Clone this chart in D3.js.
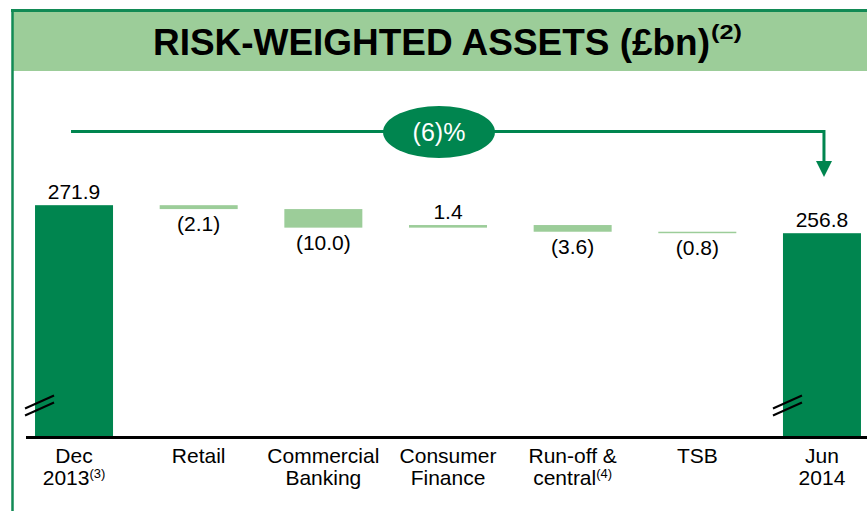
<!DOCTYPE html>
<html>
<head>
<meta charset="utf-8">
<script src="https://cdn.jsdelivr.net/npm/d3@7"></script>
<style>
  body { margin: 0; background: #fff; }
  svg { display: block; }
  text { font-family: "Liberation Sans", Arial, sans-serif; }
</style>
</head>
<body>
<div id="chart"></div>
<script>
// Data
var categories = ['Dec 2013', 'Retail', 'Commercial Banking', 'Consumer Finance', 'Run-off & central', 'TSB', 'Jun 2014'];
var catLines   = [ ['Dec', '2013'], ['Retail'], ['Commercial', 'Banking'], ['Consumer', 'Finance'], ['Run-off &', 'central'], ['TSB'], ['Jun', '2014'] ];
var catNotes   = [ '(3)', '', '', '', '(4)', '', '' ];
var startValue = 271.9;
var deltas     = [ -2.1, -10.0, 1.4, -3.6, -0.8 ];
var endValue   = 256.8;
var changeText = '(6)%';

var darkGreen  = '#00854f';
var lightGreen = '#9ccd99';

var width  = 867;
var height = 511;

var svg = d3.select('#chart').append('svg')
            .attr('width', width)
            .attr('height', height);

// Build waterfall rows
var rows = [];
var running = startValue;
rows.push({ cat: categories[0], y0: 0, y1: startValue, total: true, label: startValue.toFixed(1), up: true });
deltas.forEach(function (d, i) {
    var from = running;
    running = running + d;
    rows.push({ cat: categories[i + 1], y0: Math.min(from, running), y1: Math.max(from, running),
                total: false, up: d > 0,
                label: d < 0 ? '(' + Math.abs(d).toFixed(1) + ')' : d.toFixed(1) });
});
rows.push({ cat: categories[6], y0: 0, y1: endValue, total: true, label: endValue.toFixed(1), up: true });

// Scales (value axis is broken, baseline sits well above zero)
var baseValue = 147;
var x = d3.scalePoint().domain(categories).range([11.7, 884.3]).padding(0.5);
var y = d3.scaleLinear().domain([baseValue, 272]).range([437, 205]);
var barW = 78;

// Title band
svg.append('rect')
   .attr('x', 12).attr('y', 10)
   .attr('width', width - 12).attr('height', 61)
   .attr('fill', lightGreen);
svg.append('line')
   .attr('x1', 11).attr('x2', width)
   .attr('y1', 10.5).attr('y2', 10.5)
   .attr('stroke', '#128a55').attr('stroke-width', 3);
svg.append('line')
   .attr('x1', 12.5).attr('x2', 12.5)
   .attr('y1', 9).attr('y2', height)
   .attr('stroke', '#128a55').attr('stroke-width', 2.5);

svg.append('text')
   .attr('x', 153).attr('y', 54.5)
   .attr('textLength', 557)
   .attr('lengthAdjust', 'spacingAndGlyphs')
   .style('font-weight', 'bold')
   .style('font-size', '37px')
   .attr('fill', '#000')
   .text('RISK-WEIGHTED ASSETS (£bn)');
svg.append('text')
   .attr('x', 711).attr('y', 39)
   .attr('textLength', 31)
   .attr('lengthAdjust', 'spacingAndGlyphs')
   .style('font-weight', 'bold')
   .style('font-size', '21px')
   .attr('fill', '#000')
   .text('(2)');

// Change arrow
var ax0 = x(categories[0]) - 3;
var ax1 = x(categories[6]) + 2;
var ay  = 131.5;
svg.append('path')
   .attr('d', 'M' + ax0 + ',' + ay + 'H' + ax1 + 'V' + 162)
   .attr('fill', 'none')
   .attr('stroke', darkGreen)
   .attr('stroke-width', 3);
svg.append('path')
   .attr('d', 'M' + (ax1 - 8) + ',161L' + (ax1 + 8) + ',161L' + ax1 + ',177Z')
   .attr('fill', darkGreen);
svg.append('ellipse')
   .attr('cx', 439).attr('cy', 132)
   .attr('rx', 56).attr('ry', 26)
   .attr('fill', darkGreen);
svg.append('text')
   .attr('x', 439).attr('y', 141)
   .attr('text-anchor', 'middle')
   .attr('fill', '#fff')
   .style('font-size', '25px')
   .text(changeText);

// Bars
svg.selectAll('.bar')
   .data(rows)
   .enter().append('rect')
   .attr('class', 'bar')
   .attr('x', function (d) { return x(d.cat) - barW / 2; })
   .attr('width', barW)
   .attr('y', function (d) { return y(d.y1); })
   .attr('height', function (d) { return (d.total ? y(baseValue) : y(d.y0)) - y(d.y1); })
   .attr('fill', function (d) { return d.total ? darkGreen : lightGreen; });

// Value labels
svg.selectAll('.val')
   .data(rows)
   .enter().append('text')
   .attr('class', 'val')
   .attr('x', function (d) { return x(d.cat); })
   .attr('y', function (d) { return d.up ? y(d.y1) - 6 : y(d.y0) + 22; })
   .attr('text-anchor', 'middle')
   .style('font-size', '21px')
   .attr('fill', '#000')
   .text(function (d) { return d.label; });

// Break marks on the total bars
rows.filter(function (d) { return d.total; }).forEach(function (d) {
    var bl = x(d.cat) - barW / 2;
    [0, 7].forEach(function (off) {
        svg.append('line')
           .attr('x1', bl - 10).attr('y1', 408.5 + off)
           .attr('x2', bl + 19).attr('y2', 395.5 + off)
           .attr('stroke', '#000').attr('stroke-width', 2);
    });
});

// Baseline
svg.append('line')
   .attr('x1', 26).attr('x2', width)
   .attr('y1', y(baseValue) + 0.5).attr('y2', y(baseValue) + 0.5)
   .attr('stroke', '#000').attr('stroke-width', 3);

// Category labels (a footnote marker rides on the last line)
categories.forEach(function (c, i) {
    var t = svg.append('text')
               .attr('x', x(c))
               .attr('y', 463)
               .attr('text-anchor', 'middle')
               .style('font-size', '21px')
               .attr('fill', '#000');
    catLines[i].forEach(function (line, j) {
        t.append('tspan')
         .attr('x', x(c))
         .attr('dy', j === 0 ? 0 : 21.5)
         .text(line);
        if (j === catLines[i].length - 1 && catNotes[i]) {
            t.append('tspan')
             .attr('dy', -7)
             .style('font-size', '13px')
             .text(catNotes[i]);
        }
    });
});
</script>
</body>
</html>
